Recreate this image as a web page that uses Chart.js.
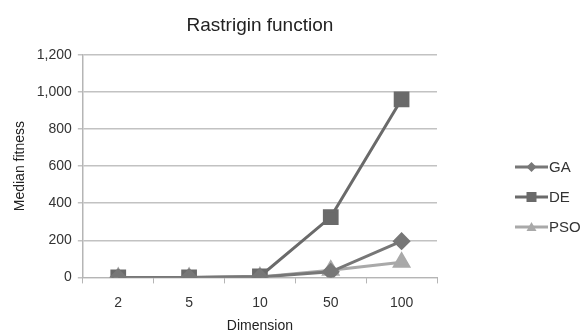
<!DOCTYPE html>
<html>
<head>
<meta charset="utf-8">
<script src="https://cdn.jsdelivr.net/npm/chart.js@4/dist/chart.umd.min.js"></script>
<style>
  body { margin: 0; background: #fff; }
  #wrap { width: 587px; height: 334px; }
</style>
</head>
<body>
<div id="wrap"><canvas id="rastrigin"></canvas></div>
<script>
const dimensions = ['2', '5', '10', '50', '100'];
const gaValues = [0, 0, 2, 30, 195];
const deValues = [0, 0, 5, 325, 960];
const psoValues = [0, 0, 2, 38, 82];

const font = "'Liberation Sans', Arial, sans-serif";

// legend on the right: line with the marker in the middle
const sideLegend = {
  id: 'sideLegend',
  afterDraw(chart) {
    const ctx = chart.ctx;
    const x0 = 515, x1 = 548;
    const rows = [167, 197, 227];
    chart.data.datasets.forEach((ds, i) => {
      const y = rows[i];
      const xm = (x0 + x1) / 2;
      ctx.save();
      ctx.strokeStyle = ds.borderColor;
      ctx.lineWidth = 3;
      ctx.beginPath();
      ctx.moveTo(x0, y);
      ctx.lineTo(x1, y);
      ctx.stroke();
      ctx.fillStyle = ds.borderColor;
      ctx.beginPath();
      if (ds.pointStyle === 'rect') {
        ctx.rect(xm - 5, y - 5, 10, 10);
      } else if (ds.pointStyle === 'rectRot') {
        ctx.moveTo(xm, y - 5); ctx.lineTo(xm + 5, y); ctx.lineTo(xm, y + 5); ctx.lineTo(xm - 5, y);
      } else {
        ctx.moveTo(xm, y - 5); ctx.lineTo(xm + 5, y + 4); ctx.lineTo(xm - 5, y + 4);
      }
      ctx.closePath();
      ctx.fill();
      ctx.fillStyle = '#333';
      ctx.font = '15px ' + font;
      ctx.textBaseline = 'middle';
      ctx.fillText(ds.label, x1 + 1, y + 1);
      ctx.restore();
    });
  }
};

new Chart(document.getElementById('rastrigin'), {
  type: 'line',
  data: {
    labels: dimensions,
    datasets: [
      {
        label: 'GA',
        data: gaValues,
        borderColor: '#777777',
        backgroundColor: '#777777',
        borderWidth: 3,
        pointStyle: 'rectRot',
        pointRadius: 7
      },
      {
        label: 'DE',
        data: deValues,
        borderColor: '#6a6a6a',
        backgroundColor: '#6a6a6a',
        borderWidth: 3,
        pointStyle: 'rect',
        pointRadius: 9
      },
      {
        label: 'PSO',
        data: psoValues,
        borderColor: '#a9a9a9',
        backgroundColor: '#a9a9a9',
        borderWidth: 3,
        pointStyle: 'triangle',
        pointRadius: 8
      }
    ]
  },
  options: {
    responsive: true,
    maintainAspectRatio: false,
    animation: false,
    layout: { padding: { left: 12, right: 150, top: 10, bottom: 0 } },
    plugins: {
      legend: { display: false },
      tooltip: { enabled: false },
      title: {
        display: true,
        text: 'Rastrigin function',
        fullSize: false,
        color: '#222',
        font: { family: font, size: 19, weight: 'normal' },
        padding: { top: 4, bottom: 18 }
      }
    },
    scales: {
      x: {
        offset: true,
        grid: {
          offset: true,
          drawOnChartArea: false,
          tickLength: 6,
          color: '#b5b5b5'
        },
        border: { color: '#b5b5b5', width: 1 },
        ticks: { color: '#333', font: { family: font, size: 14 }, padding: 11 },
        title: {
          display: true,
          text: 'Dimension',
          color: '#222',
          font: { family: font, size: 14 },
          padding: { top: -4, bottom: -1 }
        }
      },
      y: {
        min: 0,
        max: 1200,
        ticks: { stepSize: 200, color: '#333', font: { family: font, size: 14 }, padding: 6 },
        grid: { color: '#c2c2c2', tickLength: 5, lineWidth: 1.5 },
        border: { color: '#b5b5b5', width: 1.5 },
        title: {
          display: true,
          text: 'Median fitness',
          color: '#222',
          font: { family: font, size: 14 },
          padding: { top: 0, bottom: 2 }
        }
      }
    }
  },
  plugins: [sideLegend]
});
</script>
</body>
</html>
